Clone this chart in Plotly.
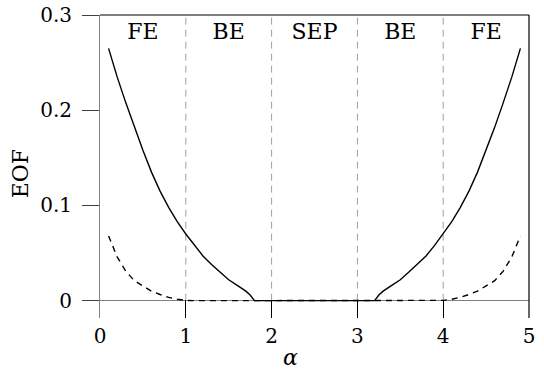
import plotly.graph_objects as go

# data
alpha = [0.1, 0.2, 0.3, 0.4, 0.5, 0.6, 0.7, 0.8, 0.9, 1.0, 1.1, 1.2, 1.3, 1.4, 1.5, 1.6, 1.7, 1.75, 1.8,
         2.0, 2.5, 3.0,
         3.2, 3.25, 3.3, 3.4, 3.5, 3.6, 3.7, 3.8, 3.9, 4.0, 4.1, 4.2, 4.3, 4.4, 4.5, 4.6, 4.7, 4.8, 4.9]
eof_solid = [0.265, 0.235, 0.208, 0.182, 0.158, 0.135, 0.115, 0.098, 0.083, 0.070, 0.058, 0.047, 0.038, 0.030, 0.022, 0.016, 0.010, 0.006, 0.0,
             0.0, 0.0, 0.0,
             0.0, 0.006, 0.010, 0.016, 0.022, 0.030, 0.038, 0.047, 0.058, 0.070, 0.083, 0.098, 0.115, 0.135, 0.158, 0.182, 0.208, 0.235, 0.265]
alpha_d = [0.1, 0.2, 0.3, 0.4, 0.5, 0.6, 0.7, 0.8, 0.9, 1.0, 1.1, 2.5, 3.9, 4.0, 4.1, 4.2, 4.3, 4.4, 4.5, 4.6, 4.7, 4.8, 4.9]
eof_dashed = [0.068, 0.046, 0.031, 0.021, 0.0155, 0.010, 0.0065, 0.0035, 0.0015, 0.0003, 0.0, 0.0, 0.0, 0.0003, 0.0015, 0.0035, 0.0065, 0.010, 0.0155, 0.021, 0.031, 0.046, 0.068]
boundaries = [1, 2, 3, 4]
region_x = [0.5, 1.5, 2.5, 3.5, 4.5]
region_labels = ["FE", "BE", "SEP", "BE", "FE"]
xticks = [0, 1, 2, 3, 4, 5]
yticks = [0, 0.1, 0.2, 0.3]
ytick_text = ["0", "0.1", "0.2", "0.3"]

FONT = "DejaVu Serif, serif"
FS_NUM = 20
FS_TXT = 22

fig = go.Figure()

for b in boundaries:
    fig.add_trace(go.Scatter(x=[b, b], y=[0, 0.3], mode="lines",
                             line=dict(color="#a0a0a0", width=1, dash="7px,5px"),
                             hoverinfo="skip", showlegend=False))

fig.add_trace(go.Scatter(x=alpha_d, y=eof_dashed, mode="lines",
                         line=dict(color="black", width=1.4, dash="6px,5px"),
                         showlegend=False))
fig.add_trace(go.Scatter(x=alpha, y=eof_solid, mode="lines",
                         line=dict(color="black", width=1.4),
                         showlegend=False))

fig.add_trace(go.Scatter(x=region_x, y=[0.281] * len(region_x), mode="text",
                         text=region_labels, textposition="middle center",
                         textfont=dict(family=FONT, size=FS_TXT, color="black"),
                         showlegend=False, hoverinfo="skip"))

# spines: top and right black
fig.add_shape(type="line", xref="x domain", yref="y domain", x0=0, x1=1, y0=1, y1=1,
              line=dict(color="black", width=1.2), layer="above")
fig.add_shape(type="line", xref="x domain", yref="y domain", x0=1, x1=1, y0=0, y1=1,
              line=dict(color="black", width=1.2), layer="above")

fig.add_annotation(text="<i>α</i>", xref="paper", yref="paper", x=0.443, y=-0.129,
                   showarrow=False, font=dict(family=FONT, size=FS_TXT, color="black"),
                   xanchor="center", yanchor="middle")
fig.add_annotation(text="EOF", xref="paper", yref="paper", x=-0.186, y=0.475,
                   showarrow=False, textangle=-90,
                   font=dict(family=FONT, size=FS_TXT, color="black"),
                   xanchor="center", yanchor="middle")

fig.update_layout(
    width=544, height=369,
    margin=dict(l=100, r=15, t=15, b=51),
    paper_bgcolor="white", plot_bgcolor="white",
    font=dict(family=FONT, size=FS_NUM, color="black"),
    showlegend=False,
    xaxis=dict(range=[0, 5], tickvals=xticks, showgrid=False, zeroline=False,
               showline=False, ticks="inside", ticklen=18, tickcolor="black",
               tickwidth=1, ticklabelstandoff=4, automargin=False,
               ticklabeloverflow="allow", tickfont=dict(size=FS_NUM)),
    yaxis=dict(range=[-0.0182, 0.3], tickvals=yticks, ticktext=ytick_text,
               showgrid=False, zeroline=True, zerolinecolor="#808080", zerolinewidth=1,
               showline=True, linecolor="#808080", linewidth=1,
               ticks="outside", ticklen=17, tickcolor="#404040", tickwidth=1,
               ticklabelstandoff=6, automargin=False,
               ticklabeloverflow="allow", tickfont=dict(size=FS_NUM)),
)

# remove the default 8px page margin so the figure fills the window exactly
fig.write_html("out.html",
               config={"displayModeBar": False, "staticPlot": True},
               post_script="document.body.style.margin='0';document.body.style.overflow='hidden';")
